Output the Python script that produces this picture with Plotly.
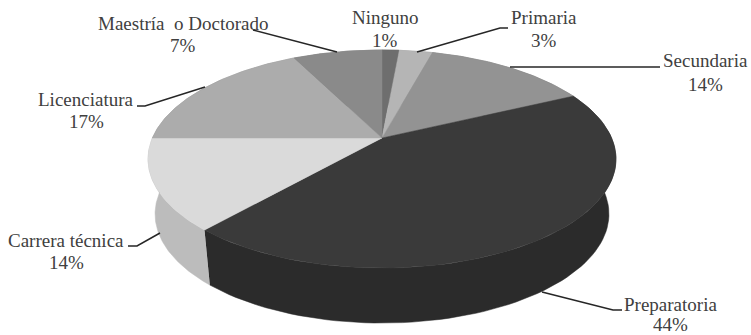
import numpy as np
import plotly.graph_objects as go

categories = ["Ninguno", "Primaria", "Secundaria", "Preparatoria", "Carrera técnica", "Licenciatura", "Maestría  o Doctorado"]
values = [1.4, 2.8, 13.7, 43.6, 13.5, 17.6, 7.4]
percent_labels = ["1%", "3%", "14%", "44%", "14%", "17%", "7%"]
top_colors = ["#6e6e6e", "#b5b5b5", "#939393", "#3a3a3a", "#dadada", "#acacac", "#8a8a8a"]
side_colors = ["#5a5a5a", "#999999", "#7a7a7a", "#2b2b2b", "#bcbcbc", "#909090", "#707070"]

label_pos = [(385, 17, 40), (544, 17, 40), (705, 60, 84), (670, 304, 324), (66, 240, 262), (86, 99, 121), (183, 23, 45)]
leaders = [
    [(417, 52), (500, 28), (508, 28)],
    [(510, 67), (660, 67)],
    [(542, 292), (613, 310), (622, 310)],
    [(160, 233), (137, 246), (128, 246)],
    [(205, 87), (145, 106), (137, 106)],
    [(337, 52), (253, 30)],
]

# Projection of the tilted disc
CX, APEX_Y = 382, 138
K, A, B = 0.1927, 229.6, 105.0
BOTTOM_SHIFT, BOTTOM_SCALE = 55, 0.97


def top_rim(theta):
    u, v = np.sin(theta), np.cos(theta)
    w = 1 + K * v
    return CX + A * u / w, APEX_Y - B * v / w


def bottom_rim(theta):
    x, y = top_rim(theta)
    return CX + (x - CX) * BOTTOM_SCALE, y + BOTTOM_SHIFT


edges = np.concatenate([[0], np.cumsum(values)]) / sum(values) * 2 * np.pi
fig = go.Figure()


def poly(x, y, color):
    fig.add_trace(go.Scatter(x=x, y=y, mode="lines", fill="toself", fillcolor=color,
                             line=dict(color=color, width=0.5), hoverinfo="skip", showlegend=False))


for i in range(len(values)):
    t = np.linspace(edges[i], edges[i + 1], 80)
    xt, yt = top_rim(t)
    xb, yb = bottom_rim(t)
    poly(np.concatenate([xt, xb[::-1]]), np.concatenate([yt, yb[::-1]]), side_colors[i])

for i in range(len(values)):
    t = np.linspace(edges[i], edges[i + 1], 80)
    xt, yt = top_rim(t)
    poly(np.concatenate([[CX], xt, [CX]]), np.concatenate([[APEX_Y], yt, [APEX_Y]]), top_colors[i])

for pts in leaders:
    fig.add_trace(go.Scatter(x=[p[0] for p in pts], y=[p[1] for p in pts], mode="lines",
                             line=dict(color="#262626", width=1.5), hoverinfo="skip", showlegend=False))

for name, pct, (x, y1, y2) in zip(categories, percent_labels, label_pos):
    for text, y in ((name.replace("  ", "&nbsp; "), y1), (pct, y2)):
        fig.add_annotation(x=x, y=y, text=text, showarrow=False,
                           xanchor="center", yanchor="middle", align="center",
                           font=dict(family="Liberation Serif", size=19, color="#404040"))

fig.update_layout(
    width=751, height=335, margin=dict(l=0, r=0, t=0, b=0),
    paper_bgcolor="white", plot_bgcolor="white", showlegend=False,
    xaxis=dict(range=[0, 751], visible=False, fixedrange=True),
    yaxis=dict(range=[335, 0], visible=False, fixedrange=True),
)
fig.write_html("out.html", config={"displayModeBar": False},
               post_script="document.body.style.margin='0';document.documentElement.style.overflow='hidden';")
